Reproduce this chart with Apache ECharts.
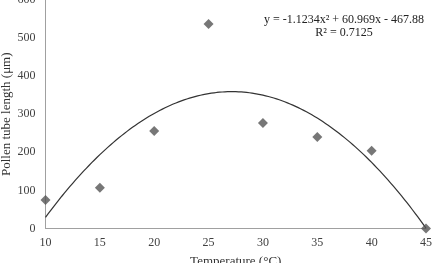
<!DOCTYPE html>
<html><head><meta charset="utf-8">
<script src="https://cdn.jsdelivr.net/npm/echarts@6/dist/echarts.min.js"></script>
<style>html,body{margin:0;padding:0;background:#fff}#c{width:438px;height:263px}</style>
</head><body><div id="c"></div>
<script>
var temperatures = [10, 15, 20, 25, 30, 35, 40, 45];
var tubeLength = [75, 107, 256, 537, 277, 240, 204, 0];
var xTicks = [10, 15, 20, 25, 30, 35, 40, 45];
var yTicks = [0, 100, 200, 300, 400, 500, 600];
// fitted polynomial trendline coefficients (a x^2 + b x + c), as printed on the chart
var trendCoef = [-1.1234, 60.969, -467.88];
var equationText = ['y = -1.1234x² + 60.969x - 467.88', 'R² = 0.7125'];

var trend = [];
for (var t = 10; t <= 45.0001; t += 0.25) {
  trend.push([t, trendCoef[0]*t*t + trendCoef[1]*t + trendCoef[2]]);
}
var pts = temperatures.map(function(x,i){return [x, tubeLength[i]];});
var font = '"Liberation Serif", "Times New Roman", serif';
var chart = echarts.init(document.getElementById('c'));
chart.setOption({
  animation: false,
  backgroundColor: '#fff',
  textStyle: {fontFamily: font},
  grid: {left: 45.5, right: 12, top: 0, bottom: 34.5, containLabel: false, outerBoundsMode: 'none'},
  xAxis: {
    type: 'value', min: 10, max: 45, interval: 5,
    name: 'Temperature (°C)', nameLocation: 'middle', nameGap: 27, nameMoveOverlap: false,
    nameTextStyle: {fontFamily: font, fontSize: 13, color: '#333'},
    axisLine: {show: true, lineStyle: {color: '#a0a0a0', width: 1}},
    axisTick: {show: false},
    splitLine: {show: false},
    axisLabel: {fontFamily: font, fontSize: 12, color: '#404040', margin: 8}
  },
  yAxis: {
    type: 'value', min: 0, max: 600, interval: 100,
    name: 'Pollen tube length (μm)', nameLocation: 'middle', nameGap: 32, nameMoveOverlap: false,
    nameTextStyle: {fontFamily: font, fontSize: 13, color: '#333'},
    axisLine: {show: true, lineStyle: {color: '#a0a0a0', width: 1}},
    axisTick: {show: false},
    splitLine: {show: false},
    axisLabel: {fontFamily: font, fontSize: 12, color: '#404040', margin: 10}
  },
  graphic: [
    {type: 'text', x: 344, y: 20, style: {text: equationText[0], x: 0, y: 0, align: 'center', verticalAlign: 'middle', font: '12px ' + font, fill: '#222'}},
    {type: 'text', x: 344, y: 33, style: {text: equationText[1], x: 0, y: 0, align: 'center', verticalAlign: 'middle', font: '12px ' + font, fill: '#222'}}
  ],
  series: [
    {type: 'line', data: trend, showSymbol: false, smooth: false,
     lineStyle: {color: '#333', width: 1.2}, z: 2},
    {type: 'scatter', data: pts, symbol: 'diamond', symbolSize: 10,
     itemStyle: {color: '#555'}, z: 3}
  ]
});
</script></body></html>
